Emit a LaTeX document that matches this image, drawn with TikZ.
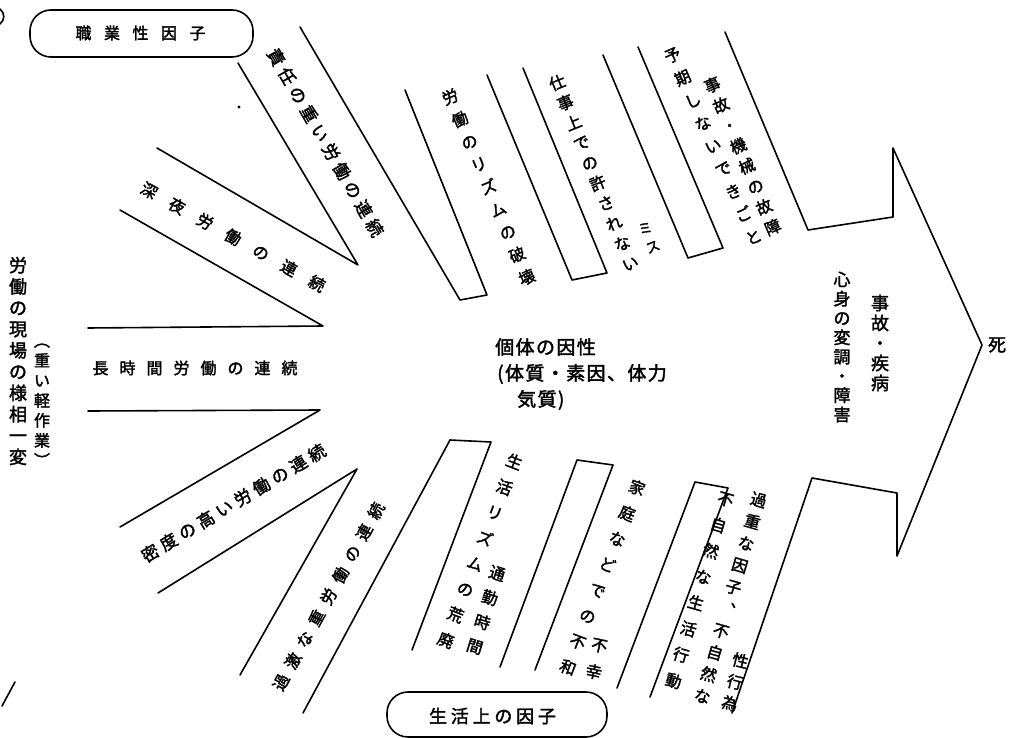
\documentclass[tikz,border=0pt]{standalone}
\usepackage{fontspec}
\newfontfamily\jpfont[FakeBold=2]{Noto Sans CJK JP}
\newlength\lsgap
\makeatletter
\def\lsp#1#2{\setlength\lsgap{#1}\ls@first#2\relax}
\def\ls@first#1{#1\ls@rest}
\def\ls@rest#1{\ifx#1\relax\else\hspace{\lsgap}#1\expandafter\ls@rest\fi}
\makeatother
\tikzset{
  ln/.style={line width=1.6pt, line join=round, line cap=round},
  tagbox/.style={line width=1.6pt, rounded corners=21pt},
  hz/.style={inner sep=0pt, font=\jpfont\fontsize{#1}{#1}\selectfont},
  vt/.style 2 args={inner sep=0pt, align=center, font=\jpfont\fontsize{#1}{#2}\selectfont},
}
\begin{document}
\begin{tikzpicture}[x=1pt,y=-1pt]
\fill[white] (0,0) rectangle (1017,738);
\useasboundingbox (0,0) rectangle (1017,738);

% bones on the left
\draw[ln] (88,328) -- (323,326) -- (120,210);
\draw[ln] (157,148) -- (358,265) -- (238,63);
\draw[ln] (88,411) -- (320,410) -- (120,527);
\draw[ln] (158,593) -- (357,469) -- (240,675);
% upper slots
\draw[ln] (300,27) -- (460,300) -- (487,295) -- (405,90);
\draw[ln] (487,75) -- (572,280) -- (607,273) -- (523,68);
\draw[ln] (603,55) -- (688,258) -- (723,248) -- (638,47);
% arrow head
\draw[ln] (725,32) -- (808,230) -- (893,217) -- (893,148) -- (982,345) -- (897,556) -- (897,493) -- (812,478) -- (732,713);
% lower slots
\draw[ln] (303,713) -- (450,440) -- (491,442) -- (412,650);
\draw[ln] (500,667) -- (577,460) -- (613,465) -- (535,670);
\draw[ln] (617,688) -- (695,482) -- (728,488) -- (650,697);

% stray marks of the scan
\draw[ln] (0,9) .. controls (5,13) and (5,20) .. (0,24);
\draw[ln] (2,706) -- (15,682);
\fill (239,107) circle (1.6);

% category tags
\draw[tagbox] (30,10) rectangle (253,57);
\node[hz=16] (shokugyo) at (140.5,33) {\lsp{12.5pt}{職業性因子}};
\draw[tagbox] (387,692) rectangle (607,737);
\node[hz=18] (seikatsu) at (492.5,716) {\lsp{3.8pt}{生活上の因子}};

% left bone labels
\node[hz=17, rotate=-60] (sekinin) at (325.5,142.5) {\lsp{4.9pt}{責任の重い労働の連続}};
\node[hz=16, rotate=-29] (shinya) at (233,237) {\lsp{16pt}{深夜労働の連続}};
\node[hz=16] (choujikan) at (195,368) {\lsp{11pt}{長時間労働の連続}};
\node[hz=17, rotate=31] (mitsudo) at (233.5,503) {\lsp{4.6pt}{密度の高い労働の連続}};
\node[hz=16, rotate=61] (kageki) at (328.5,596.5) {\lsp{8.5pt}{過激な重労働の連続}};

% far left vertical labels
\node[vt={18}{21.3}] (genba) at (18,361) {労\\働\\の\\現\\場\\の\\様\\相\\一\\変};
\node[vt={16}{20}] (keisagyo) at (42,405) {︵\\重\\い\\軽\\作\\業\\︶};

% upper strip labels
\node[vt={16}{24.5}, rotate=23] (rhythm) at (488.5,187) {労\\働\\の\\リ\\ズ\\ム\\の\\破\\壊};
\node[vt={16}{21.7}, rotate=22] (shigoto) at (593.5,172.5) {仕\\事\\上\\で\\の\\許\\さ\\れ\\な\\い};
\node[vt={14}{20}, rotate=22] (misu) at (649,237.5) {ミ\\ス};
\node[vt={16}{24.9}, rotate=24] (yoki) at (713,146) {予\\期\\し\\な\\い\\で\\き\\ご\\と};
\node[vt={16}{22.1}, rotate=23] (jiko) at (742.5,156) {事\\故\\・\\機\\械\\の\\故\\障};

% centre
\node[hz=19, anchor=west] (kotai1) at (495,347) {\lsp{1.4pt}{個体の因性}};
\node[hz=19, anchor=west] (kotai2) at (497,374) {\lsp{1.4pt}{(体質・素因、体力}};
\node[hz=19, anchor=west] (kotai3) at (517,400) {\lsp{1.4pt}{気質)}};

% arrow head labels
\node[vt={18}{20}] (shippei) at (880,343) {事\\故\\・\\疾\\病};
\node[vt={17}{19.3}] (henchou) at (842,347) {心\\身\\の\\変\\調\\・\\障\\害};
\node[hz=18] (shi) at (997,345) {死};

% lower strip labels
\node[vt={16}{27.3}, rotate=-21] (rizumu) at (480,551) {生\\活\\リ\\ズ\\ム\\の\\荒\\廃};
\node[vt={16}{25.5}, rotate=-17] (tsukin) at (486,610) {通\\勤\\時\\間};
\node[vt={16}{27.5}, rotate=-21] (katei) at (602.5,577.5) {家\\庭\\な\\ど\\で\\の\\不\\和};
\node[vt={16}{27}, rotate=-12] (fukou) at (596.5,659) {不\\幸};
\node[vt={16}{22.7}, rotate=-16] (kajuu) at (730.5,598) {過\\重\\な\\因\\子\\︑\\不\\自\\然\\な};
\node[vt={16}{27}, rotate=-16] (fushizen) at (699.5,590.5) {不\\自\\然\\な\\生\\活\\行\\動};
\node[vt={16}{22}, rotate=-14] (seikoui) at (735,682) {性\\行\\為};
\end{tikzpicture}
\end{document}
